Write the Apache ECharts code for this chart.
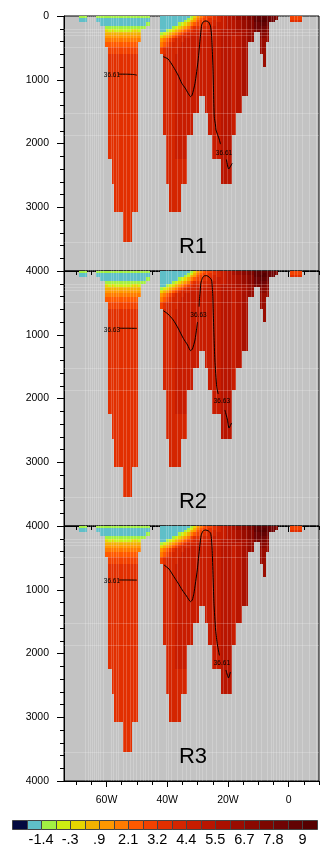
<!DOCTYPE html>
<html>
<head>
<meta charset="utf-8">
<script src="https://cdn.jsdelivr.net/npm/echarts@6/dist/echarts.min.js"></script>
<style>
html,body{margin:0;padding:0;background:#fff}
#chart{width:332px;height:857px}
</style>
</head>
<body>
<div id="chart"></div>
<script>
// Model depth levels (m): each column profile fills cells from the surface down
const depthEdges = [0,30,60,100,150,200,250,300,350,400,480,600,800,1000,1250,1520,1870,2250,2640,3080,3545,4000];

// Water columns of the section (longitude, negative = west)
const colWest = [-69.0,-63.5,-62.0,-60.5,-59.4,-58.3,-57.5,-56.0,-54.5,-53.0,-51.5,-49.6,-48.6,-47.0,
  -42.4,-41.3,-40.5,-39.4,-38.4,-37.4,-36.4,-35.6,-34.5,-33.4,-32.4,-31.5,-30.5,-29.5,-28.5,-27.6,
  -26.6,-25.4,-23.9,-22.4,-20.5,-18.6,-17.4,-15.5,-13.3,-11.4,-9.4,-8.5,-7.5,-6.5,-4.5,0.4];
const colEast = [-66.5,-62.0,-60.5,-59.4,-58.3,-57.5,-56.0,-54.5,-53.0,-51.5,-49.6,-48.6,-47.0,-45.7,
  -41.3,-40.5,-39.4,-38.4,-37.4,-36.4,-35.6,-34.5,-33.4,-32.4,-31.5,-30.5,-29.5,-28.5,-27.6,-26.6,
  -25.4,-23.9,-22.4,-20.5,-18.6,-17.4,-15.5,-13.3,-11.4,-9.4,-8.5,-7.5,-6.5,-4.5,-3.5,4.4];

// Temperature (°C) per column, surface first, one value per depth cell down to the sea floor
const colTemps = [
  [-1.1,-1.7,-1.7],
  [-1.1,-1.7,-1.7],
  [-1.1,-1.7,-1.7,-1.7],
  [-1.1,-1.7,-1.7,-1.7,-1.1,0.0,0.6,1.2,1.8,2.4],
  [-1.1,-1.7,-1.7,-1.7,-1.1,-0.5,0.6,1.2,1.8,2.4,2.9, 3.5,3.5,3.5,3.5,3.5,3.5],
  [-1.1,-1.7,-1.7,-1.7,-1.1,0.0,0.6,1.2,1.8,2.4,2.9, 3.5,3.5,3.5,3.5,3.5,3.5,3.5],
  [-1.1,-1.7,-1.7,-1.7,-1.1,-0.5,0.6,1.2,1.8,2.4,2.9, 3.5,3.5,3.5,3.5,3.5,3.5,3.5,3.5],
  [-1.1,-1.7,-1.7,-1.7,-1.1,-0.5,0.6,1.2,1.8,2.4,2.9, 3.5,3.5,3.5,3.5,3.5,3.5,3.5,3.5],
  [-1.1,-1.7,-1.7,-1.7,-1.1,-0.5,0.6,1.2,1.8,2.4,2.9, 3.5,3.5,3.5,3.5,3.5,3.5,3.5,3.5,3.5],
  [-1.1,-1.7,-1.7,-1.7,-1.1,-0.5,0.6,1.2,1.8,2.4,2.9, 3.5,3.5,3.5,3.5,3.5,3.5,3.5,3.5,3.5],
  [-1.1,-1.7,-1.7,-1.7,-1.1,0.0,0.6,1.2,1.8,2.4,2.9, 3.5,3.5,3.5,3.5,3.5,3.5,3.5,3.5],
  [-1.1,-1.7,-1.7,-1.7,-1.1,-0.5,0.6,1.2,1.8],
  [-1.1,-1.7,-1.7,-1.7,-1.1],
  [-1.1,-1.7,-1.7,-1.1],
  [-1.7,-1.7,-1.7,-1.7,-1.7,-1.7,-1.1,0.0,1.2,1.8,2.9],
  [-1.7,-1.7,-1.7,-1.7,-1.7,-1.7,-0.5,0.6,1.8,2.4,3.5, 4.1,4.1,4.1,4.1,4.1],
  [-1.7,-1.7,-1.7,-1.7,-1.7,-1.1,0.0,1.2,2.4,2.9,4.1, 4.1,4.1,4.1,4.1,4.1,4.1,4.1],
  [-1.7,-1.7,-1.7,-1.7,-1.7,-0.5,0.6,1.8,2.9,3.5,4.1, 4.1,4.1,4.1,4.1,4.1,4.1,4.1,4.1],
  [-1.7,-1.7,-1.7,-1.7,-1.1,0.0,1.2,2.4,3.5,4.1,4.1, 4.1,4.1,4.1,4.1,4.1,4.1,4.1,4.1],
  [-1.7,-1.7,-1.7,-1.7,-0.5,0.6,1.8,2.9,4.1,4.1,4.1, 4.7,4.7,4.7,4.7,4.7,4.7,4.1,4.1],
  [-1.7,-1.7,-1.7,-1.1,0.0,1.2,2.4,3.5,4.1,4.1,4.7, 4.7,4.7,4.7,4.7,4.7,4.7,4.1,4.1],
  [-1.7,-1.7,-1.7,-0.5,0.6,1.8,2.9,4.1,4.1,4.7,4.7, 4.7,4.7,4.7,4.7,4.7,4.7,4.1],
  [-1.7,-1.7,-1.1,0.0,1.2,2.4,3.5,4.1,4.7,4.7,4.7, 4.7,4.7,4.7,4.7,4.7,4.7,4.1],
  [-1.7,-1.1,-0.5,0.6,1.8,2.9,4.1,4.1,4.7,4.7,4.7, 4.7,4.7,4.7,4.7,4.7],
  [-1.1,-0.5,0.6,1.8,2.9,3.5,4.1,4.7,4.7,4.7,4.7, 4.7,4.7,4.7,4.7,4.7],
  [0.0,0.6,1.2,2.4,3.5,4.1,4.1,4.7,4.7,4.7,4.7, 4.7,4.7,4.7,4.7],
  [1.2,1.8,2.4,2.9,3.5,4.1,4.7,4.7,4.7,4.7,4.7, 4.7,4.7,4.7,4.7],
  [1.8,2.4,2.9,2.9,3.5,4.1,4.7,4.7,4.7,4.7,4.7, 4.7,4.7,4.7],
  [2.4,2.9,2.9,3.5,4.1,4.1,4.7,4.7,4.7,4.7,4.7, 4.7,4.7,4.7],
  [2.9,2.9,3.5,3.5,4.1,4.1,4.7,4.7,4.7,4.7,4.7, 4.7,4.7,4.7,4.7],
  [2.9,3.5,3.5,4.1,4.1,4.7,4.7,4.7,4.7,4.7,4.7, 4.7,4.7,4.7,4.7,4.7],
  [3.5,3.5,4.1,4.1,4.7,4.7,4.7,4.7,4.7,4.7,4.7, 4.7,4.7,4.7,4.7,4.7,4.7],
  [4.1,4.1,4.1,4.7,4.7,4.7,4.7,4.7,4.7,4.7,4.7, 4.7,4.7,4.7,4.7,4.7,4.7],
  [4.7,4.7,4.7,4.7,4.7,5.2,5.2,5.2,5.2,5.2,5.2, 5.2,5.2,5.2,5.2,5.2,5.2,5.2],
  [5.2,5.2,5.2,5.2,5.2,5.2,5.2,5.2,5.2,5.2,5.2, 5.2,5.2,5.2,5.2,5.2,5.2,5.2],
  [5.8,5.8,5.2,5.2,5.2,5.2,5.2,4.7,4.7,4.7,4.7, 4.7,4.7,4.7,4.7,4.7],
  [6.4,6.4,5.8,5.8,5.8,5.8,5.2,5.2,5.2,5.2,5.2, 5.2,5.2,5.2,5.2],
  [7.0,7.0,6.4,6.4,6.4,5.8,5.8,5.8,5.8,5.8,5.8, 5.8,5.8,5.8],
  [7.5,7.5,7.0,7.0,7.0,6.4,6.4,6.4,6.4],
  [8.7,8.7,8.7,8.1,8.1,7.5],
  [8.7,8.7,9.3,8.7,8.1,7.5,7.0,7.0,6.4,6.4,6.4],
  [8.7,9.3,9.3,8.7,8.1,7.5,7.0,7.0,6.4,6.4,6.4, 6.4],
  [8.7,8.7,8.7,8.1,7.5,7.0,7.0,6.4,6.4],
  [8.1,8.1,8.1],
  [7.5,7.5],
  [2.9,2.9,3.5]
];

// Contour interval boundaries and fill colours (21 classes)
const levels = [-1.95,-1.4,-0.85,-0.3,0.3,0.9,1.5,2.1,2.65,3.2,3.8,4.4,4.95,5.5,6.1,6.7,7.25,7.8,8.4,9.0];
const levelColors = ['#03093f','#5fbfc8','#a2f043','#cdee12','#e7d500','#f2b100','#ff9800','#ff7b00',
  '#ff5900','#f24100','#e22f00','#d42500','#c81c00','#b91500','#aa1000','#9a0c00','#8b0800',
  '#7d0600','#700404','#620202','#560000'];
const colorbarLabels = ['-1.4','-.3','.9','2.1','3.2','4.4','5.5','6.7','7.8','9'];

// Axis ticks
const lonTicks = [-60,-40,-20,0];
const lonTickLabels = ['60W','40W','20W','0'];
const lonMinorTicks = [-70,-65,-60,-55,-50,-45,-40,-35,-30,-25,-20,-15,-10,-5,0,5,10];
const depthTicks = [0,1000,2000,3000,4000];
const depthTickLabels = ['0','1000','2000','3000','4000'];

// Model grid lines drawn faintly over the section
const meridians = [-67.1,-66.1,-65.4,-64.8,-64.1,-63.5,-62.8,-62.1,-61.2,-58.6,-57.8,-56.9,-56.1,-54.7,
  -53.6,-52.4,-51.2,-50.4,-49.0,-48.1,-47.2,-46.3,-45.2,-44.1,-42.9,-40.5,-39.6,-38.7,-36.7,-35.0,
  -33.9,-32.5,-30.6,-29.5,-28.4,-27.3,-25.2,-24.0,-21.5,-20.4,-19.1,-17.8,-15.8,-14.2,-12.5,-10.9,
  -9.2,-7.0,-5.9,-5.1,-4.2,-3.2,-2.4,-1.5,-0.6,0.2,1.8,2.9,4.5,6.7,8.9];
const parallels = [200,250,300,480,1520,1870,3545];

const panelNames = ['R1','R2','R3'];

// Salinity isoline segments per run: [lon, depth]
const contourR1 = [
  [[-56.1,912],[-53.0,913],[-51.0,918],[-50.0,928]],
  [[-41.3,638],[-39.7,675],[-38.0,795],[-36.45,925],[-35.2,1056],[-34.1,1130],[-33.1,1213],[-32.3,1265],
   [-31.8,1240],[-30.85,1056],[-29.8,690],[-29.2,376],[-28.65,141],[-28.4,110],[-27.9,83],[-27.2,78],
   [-26.4,94],[-25.75,157],[-25.4,298],[-25.15,533],[-24.9,847],[-24.75,1160],[-24.5,1580],[-24.1,1710],
   [-23.93,1788],[-22.9,1930],[-22.45,2010]],
  [[-20.5,2250],[-19.75,2400],[-18.6,2311]]
];
const contourR2 = [
  [[-55.8,898],[-53.0,898],[-50.0,900]],
  [[-41.3,622],[-39.75,675],[-38.0,769],[-36.45,894],[-34.7,1056],[-33.3,1161],[-32.3,1250],[-31.7,1224],
   [-30.85,1082],[-30.3,900],[-30.0,800]],
  [[-29.5,560],[-29.4,455],[-29.2,350],[-28.9,188],[-28.45,115],[-27.9,78],[-27.0,73],[-26.25,94],
   [-25.4,141],[-25.0,376],[-24.85,612],[-24.6,1004],[-24.3,1396],[-23.7,1815],[-23.2,1930]],
  [[-21.0,2180],[-20.15,2337],[-19.65,2463],[-18.8,2384]]
];
const contourR3 = [
  [[-55.8,847],[-53.0,847],[-50.0,849]],
  [[-41.05,612],[-39.4,675],[-37.8,795],[-36.45,894],[-35.05,1004],[-33.65,1098],[-32.3,1187],[-31.75,1161],
   [-31.2,1056],[-30.1,690],[-29.3,325],[-28.8,141],[-28.2,78],[-27.35,63],[-26.4,78],[-25.7,115],
   [-25.4,220],[-25.15,428],[-24.85,847],[-24.6,1213],[-24.05,1631],[-23.45,1867],[-22.8,2030]],
  [[-20.65,2259],[-19.8,2384],[-19.2,2290]]
];
const contourLabelsR1 = [[-58.2,925,'36.61'],[-21.3,2154,'36.61']];
const contourLabelsR2 = [[-58.2,925,'36.63'],[-29.7,690,'36.63'],[-22.0,2039,'36.63']];
const contourLabelsR3 = [[-58.2,863,'36.61'],[-22.0,2149,'36.61']];

const contours = [contourR1, contourR2, contourR3];
const contourLabels = [contourLabelsR1, contourLabelsR2, contourLabelsR3];

// ---- build cells ----
const cells = [];
colTemps.forEach((prof, c) => {
  prof.forEach((t, k) => {
    cells.push([colWest[c], colEast[c], depthEdges[k], depthEdges[k + 1], t]);
  });
});

function colorOf(t) {
  let i = 0;
  while (i < levels.length && t >= levels[i]) i++;
  return levelColors[i];
}

function renderCell(params, api) {
  const a = api.coord([api.value(0), api.value(2)]);
  const b = api.coord([api.value(1), api.value(3)]);
  const x0 = Math.round(a[0]), x1 = Math.round(b[0]);
  const y0 = Math.round(a[1]), y1 = Math.round(b[1]);
  return {type: 'rect', shape: {x: x0, y: y0, width: x1 - x0, height: y1 - y0},
    style: {fill: colorOf(api.value(4))}};
}
function renderMeridian(params, api) {
  const a = api.coord([api.value(0), 0]);
  const b = api.coord([api.value(0), 4000]);
  const x = Math.round(a[0]) + 0.5;
  return {type: 'line', shape: {x1: x, y1: a[1], x2: x, y2: b[1]},
    style: {stroke: 'rgba(255,255,255,0.2)', lineWidth: 1}};
}
function renderParallel(params, api) {
  const a = api.coord([-74, api.value(1)]);
  const b = api.coord([10, api.value(1)]);
  const y = Math.round(a[1]) + 0.5;
  return {type: 'line', shape: {x1: a[0], y1: y, x2: b[0], y2: y},
    style: {stroke: 'rgba(255,255,255,0.2)', lineWidth: 1}};
}
function makeLabelRenderer(list) {
  return function (params, api) {
    const p = api.coord([api.value(0), api.value(1)]);
    return {type: 'text', x: p[0], y: p[1],
      style: {text: list[params.dataIndex][2], fill: '#000', font: '6.5px "Liberation Sans"',
        align: 'center', verticalAlign: 'middle'}};
  };
}
function renderColorBox(params, api) {
  const a = api.coord([api.value(0), 1]);
  const b = api.coord([api.value(1), 0]);
  const x0 = Math.round(a[0]) + 0.5, x1 = Math.round(b[0]) + 0.5;
  const y0 = Math.round(a[1]) + 0.5, y1 = Math.round(b[1]) - 0.5;
  return {type: 'rect', shape: {x: x0, y: y0, width: x1 - x0, height: y1 - y0},
    style: {fill: levelColors[params.dataIndex], stroke: '#444', lineWidth: 1}};
}

const FONT = 'Liberation Sans';
const grids = [], xAxes = [], yAxes = [], series = [];
for (let p = 0; p < 3; p++) {
  grids.push({left: 64, top: 16 + 255 * p, width: 255, height: 255, show: true,
    backgroundColor: '#c3c3c3', borderColor: '#000', borderWidth: 1});
  // minor ticks axis (carries the data)
  xAxes.push({gridIndex: p, type: 'value', min: -74, max: 10, position: 'bottom',
    axisLine: {show: true, onZero: false, lineStyle: {color: '#000', width: 1}},
    axisTick: {show: true, inside: false, length: 4, customValues: lonMinorTicks, lineStyle: {color: '#000'}},
    axisLabel: {show: false}, splitLine: {show: false}});
  // major ticks and labels
  xAxes.push({gridIndex: p, type: 'value', min: -74, max: 10, position: 'bottom',
    axisLine: {show: false, onZero: false},
    axisTick: {show: true, inside: false, length: 6, customValues: lonTicks, lineStyle: {color: '#000'}},
    axisLabel: {show: p === 2, customValues: lonTicks, margin: 14, fontSize: 10.5, color: '#000', fontFamily: FONT,
      formatter: v => lonTickLabels[lonTicks.indexOf(v)]},
    splitLine: {show: false}});
  yAxes.push({gridIndex: p, type: 'value', inverse: true, min: 0, max: 4000, interval: 1000,
    axisLine: {show: true, onZero: false, lineStyle: {color: '#000', width: 1}},
    axisTick: {show: true, inside: false, length: 7, lineStyle: {color: '#000'}},
    minorTick: {show: true, splitNumber: 5, length: 4, lineStyle: {color: '#000'}},
    axisLabel: {customValues: p === 0 ? depthTicks : depthTicks.slice(1), margin: 15, fontSize: 10.5,
      color: '#000', fontFamily: FONT, formatter: v => depthTickLabels[depthTicks.indexOf(v)]},
    splitLine: {show: false}, minorSplitLine: {show: false}});

  const xi = 2 * p, yi = p;
  series.push({type: 'custom', xAxisIndex: xi, yAxisIndex: yi, renderItem: renderCell, data: cells,
    z: 2, silent: true, clip: true});
  series.push({type: 'custom', xAxisIndex: xi, yAxisIndex: yi, renderItem: renderMeridian,
    data: meridians.map(v => [v, 0]), z: 3, silent: true, clip: true});
  series.push({type: 'custom', xAxisIndex: xi, yAxisIndex: yi, renderItem: renderParallel,
    data: parallels.map(v => [0, v]), z: 3, silent: true, clip: true});
  contours[p].forEach(seg => {
    series.push({type: 'line', xAxisIndex: xi, yAxisIndex: yi, data: seg, showSymbol: false,
      smooth: 0.2, lineStyle: {color: '#000', width: 1}, z: 4, silent: true});
  });
  series.push({type: 'custom', xAxisIndex: xi, yAxisIndex: yi, renderItem: makeLabelRenderer(contourLabels[p]),
    data: contourLabels[p].map(d => [d[0], d[1]]), z: 5, silent: true});
}

// colour bar
grids.push({left: 12, top: 820, width: 305, height: 10, show: false});
xAxes.push({gridIndex: 3, type: 'value', min: 0, max: levelColors.length,
  axisLine: {show: false}, axisTick: {show: false}, splitLine: {show: false},
  axisLabel: {customValues: colorbarLabels.map((_, i) => 2 * (i + 1)), margin: 2, fontSize: 14.5,
    color: '#000', fontFamily: FONT, formatter: v => colorbarLabels[v / 2 - 1]}});
yAxes.push({gridIndex: 3, type: 'value', min: 0, max: 1, show: false});
series.push({type: 'custom', xAxisIndex: 6, yAxisIndex: 3, renderItem: renderColorBox,
  data: levelColors.map((c, i) => [i, i + 1]), z: 2, silent: true});

const chart = echarts.init(document.getElementById('chart'), null, {renderer: 'canvas'});
chart.setOption({
  animation: false,
  textStyle: {fontFamily: FONT},
  grid: grids,
  xAxis: xAxes,
  yAxis: yAxes,
  series: series,
  graphic: panelNames.map((t, i) => ({
    type: 'text', x: 193, y: 247 + 255 * i, z: 100,
    style: {text: t, font: '22px "Liberation Sans"', fill: '#000', align: 'center', verticalAlign: 'middle'}
  }))
});
</script>
</body>
</html>
